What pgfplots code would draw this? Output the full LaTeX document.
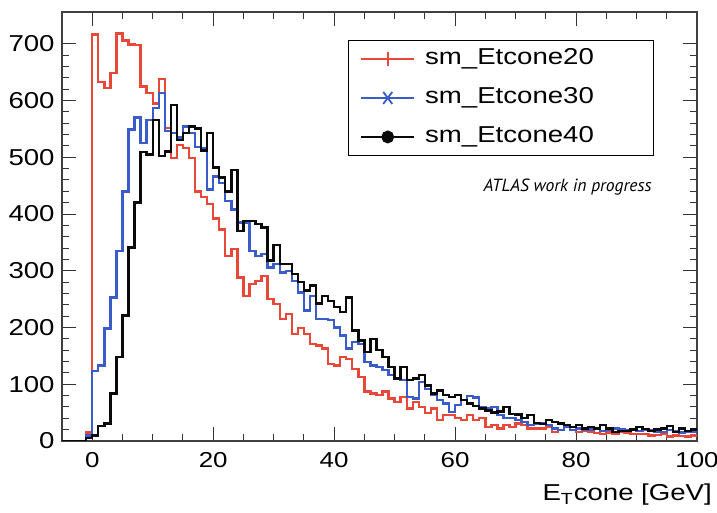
\documentclass[border=0pt]{standalone}
\usepackage{fontspec}
\setmainfont{Liberation Sans}[FakeStretch=1.2]
\newfontfamily\atlasfont{PT Sans}
\usepackage{pgfplots}
\usepackage{pgfplotstable}
\pgfplotsset{compat=1.18}

\definecolor{hred}{RGB}{232,72,56}
\definecolor{hblue}{RGB}{58,92,200}
\definecolor{hblack}{RGB}{10,10,10}

% Bin contents, 1 GeV bins; x is the lower bin edge (last row closes the final bin)
\pgfplotstableread{
x    e20  e30  e40
-5   0    0    0
-4   0    0    0
-3   0    0    0
-2   0    0    0
-1   15   10   5
0    716  123  10
1    633  133  26
2    622  198  31
3    648  253  84
4    718  335  148
5    706  440  221
6    699  549  341
7    698  570  420
8    625  525  509
9    613  566  505
10   595  587  566
11   638  613  502
12   552  546  510
13   499  543  592
14   522  535  530
15   516  554  543
16   499  543  554
17   440  518  551
18   430  516  512
19   418  443  543
20   392  466  482
21   373  455  464
22   326  423  440
23   338  408  478
24   288  385  370
25   256  385  388
26   277  335  388
27   282  326  382
28   291  329  376
29   250  306  318
30   241  312  345
31   215  297  312
32   224  300  312
33   189  282  294
34   199  262  280
35   189  230  265
36   171  256  274
37   168  215  242
38   163  215  255
39   136  213  247
40   133  200  236
41   148  186  227
42   145  163  253
43   127  174  195
44   113  171  177
45   87   139  157
46   84   133  180
47   81   130  160
48   87   125  148
49   75   116  130
50   69   110  110
51   78   107  130
52   57   78   107
53   69   75   110
54   60   104  116
55   49   92   98
56   57   81   84
57   37   72   89
58   46   66   81
59   46   51   78
60   40   63   81
61   37   72   72
62   46   79   66
63   37   77   62
64   40   60   57
65   25   57   54
66   28   60   50
67   22   46   52
68   28   40   60
69   25   40   48
70   31   37   47
71   28   34   40
72   22   28   46
73   22   31   32
74   22   31   30
75   25   28   37
76   16   22   34
77   19   19   31
78   25   25   28
79   19   19   25
80   16   22   28
81   18   20   22
82   16   20   25
83   14   22   22
84   12   18   28
85   15   20   22
86   13   22   16
87   16   20   18
88   14   19   18
89   12   20   20
90   12   18   25
91   12   20   21
92   10   19   18
93   11   17   20
94   12   16   22
95   8    19   26
96   10   18   16
97   9    15   22
98   8    17   18
99   10   16   20
100  10   16   20
}\histdata

\begin{document}
\begin{tikzpicture}
\begin{axis}[
  scale only axis,
  width=317.5pt, height=214.5pt,
  xmin=-5, xmax=100, ymin=0, ymax=756,
  xtick={0,20,...,100}, minor x tick num=3,
  ytick={0,100,...,700}, minor y tick num=4,
  tick align=inside,
  major tick length=7pt, minor tick length=3.5pt,
  every tick/.style={black!80, line width=0.5pt},
  axis line style={black!75, line width=0.6pt},
  /pgf/number format/assume math mode=true,
  /pgf/number format/1000 sep={},
  yticklabel style={inner sep=0pt, xshift=-3.5pt, font=\fontsize{11.5}{13}\selectfont},
  xticklabel style={inner sep=0pt, yshift=-5.5pt, font=\fontsize{10.8}{13}\selectfont},
  xlabel={E\textsubscript{T}cone [GeV]},
  xlabel style={at={(axis description cs:1.024,-0.125)}, anchor=east,
    inner sep=0pt, font=\fontsize{11.5}{13}\selectfont},
  legend cell align=left,
  legend style={at={(axis description cs:0.450,0.935)}, anchor=north west,
    draw=black, line width=0.6pt, fill=white,
    inner xsep=6pt, inner ysep=3.25pt, row sep=7.5pt, column sep=5pt,
    font=\fontsize{11.5}{13}\selectfont,
    nodes={inner sep=0pt, text height=9pt, text depth=3pt, text width=108pt}},
]
\addplot[const plot mark left, hred, line width=1.2pt,
  legend image code/.code={
    \draw[hred, line width=0.8pt] (0pt,0pt) -- (26.5pt,0pt);
    \draw[hred, line width=0.8pt] (13.25pt,-3.5pt) -- (13.25pt,3.5pt);}]
  table[x=x, y=e20] {\histdata};
\addlegendentry{sm\_Etcone20}
\addplot[const plot mark left, hblue, line width=1.2pt,
  legend image code/.code={
    \draw[hblue, line width=0.9pt] (0pt,0pt) -- (26.5pt,0pt);
    \draw[hblue, line width=0.9pt] (11pt,-3pt) -- (15.5pt,3pt);
    \draw[hblue, line width=0.9pt] (11pt,3pt) -- (15.5pt,-3pt);}]
  table[x=x, y=e30] {\histdata};
\addlegendentry{sm\_Etcone30}
\addplot[const plot mark left, hblack, line width=1.2pt,
  legend image code/.code={
    \draw[hblack, line width=0.8pt] (0pt,0pt) -- (26.5pt,0pt);
    \fill[hblack] (13.25pt,0pt) circle (2.6pt);}]
  table[x=x, y=e40] {\histdata};
\addlegendentry{sm\_Etcone40}
\node[anchor=east, inner sep=0pt, font=\atlasfont\itshape\fontsize{8.8}{10}\selectfont]
  at (rel axis cs:0.929,0.592) {ATLAS work in progress};
\end{axis}
\pgfresetboundingbox
\path[use as bounding box] (-31pt,-36pt) rectangle (327.5pt,220.5pt);
\end{tikzpicture}
\end{document}
